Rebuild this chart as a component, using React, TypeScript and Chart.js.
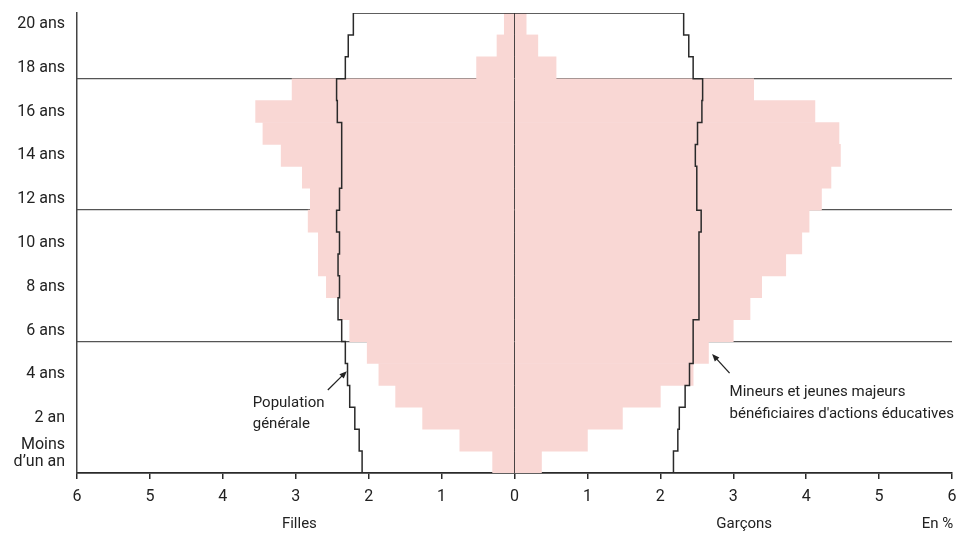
import { useEffect, useRef } from 'react';
import { Chart, registerables } from 'chart.js';

Chart.register(...registerables);

const FONT = 'Roboto, "Liberation Sans", sans-serif';

// Ages 0..20 (bottom to top)
const ages = [0, 1, 2, 3, 4, 5, 6, 7, 8, 9, 10, 11, 12, 13, 14, 15, 16, 17, 18, 19, 20];
const ageLabels: (string | string[])[] = [
  ['Moins', 'd\u2019un an', ''], '', '2 an', '', '4 ans', '', '6 ans', '', '8 ans', '', '10 ans',
  '', '12 ans', '', '14 ans', '', '16 ans', '', '18 ans', '', '20 ans',
];

// Mineurs et jeunes majeurs bénéficiaires d'actions éducatives (en %)
const benefFilles = [0.30, 0.75, 1.26, 1.63, 1.86, 2.02, 2.26, 2.39, 2.58, 2.69, 2.69, 2.83, 2.80, 2.91, 3.20, 3.45, 3.55, 3.05, 0.52, 0.24, 0.14];
const benefGarcons = [0.37, 1.00, 1.48, 2.00, 2.45, 2.66, 3.00, 3.23, 3.39, 3.72, 3.94, 4.04, 4.21, 4.34, 4.47, 4.45, 4.12, 3.28, 0.57, 0.32, 0.16];

// Population générale (en %)
const popFilles = [2.09, 2.13, 2.19, 2.26, 2.29, 2.32, 2.37, 2.42, 2.40, 2.42, 2.40, 2.44, 2.40, 2.37, 2.37, 2.37, 2.43, 2.44, 2.32, 2.28, 2.21];
const popGarcons = [2.18, 2.24, 2.26, 2.34, 2.40, 2.45, 2.45, 2.53, 2.53, 2.53, 2.53, 2.56, 2.50, 2.50, 2.48, 2.51, 2.57, 2.58, 2.45, 2.39, 2.32];

const separatorAges = [6, 12, 18];

const PINK = '#F9D7D4';
const DARK = '#2a2a2a';

function drawArrow(ctx: CanvasRenderingContext2D, x1: number, y1: number, x2: number, y2: number) {
  const ang = Math.atan2(y2 - y1, x2 - x1);
  const head = 8;
  ctx.beginPath();
  ctx.moveTo(x1, y1);
  ctx.lineTo(x2 - Math.cos(ang) * head * 0.7, y2 - Math.sin(ang) * head * 0.7);
  ctx.stroke();
  ctx.beginPath();
  ctx.moveTo(x2, y2);
  ctx.lineTo(x2 - head * Math.cos(ang - 0.4), y2 - head * Math.sin(ang - 0.4));
  ctx.lineTo(x2 - head * Math.cos(ang + 0.4), y2 - head * Math.sin(ang + 0.4));
  ctx.closePath();
  ctx.fill();
}

const annotationPlugin = {
  id: 'annotations',
  afterDraw(chart: any) {
    const { ctx, scales } = chart;
    const x = scales.x;
    const yy = scales.y2;
    ctx.save();
    ctx.fillStyle = '#222';
    ctx.strokeStyle = '#222';
    ctx.lineWidth = 1.3;
    ctx.font = `15px ${FONT}`;
    ctx.textAlign = 'left';
    ctx.textBaseline = 'alphabetic';
    ctx.fillText('Population', x.getPixelForValue(-3.59), yy.getPixelForValue(3.01));
    ctx.fillText('générale', x.getPixelForValue(-3.59), yy.getPixelForValue(2.05));
    ctx.fillText('Mineurs et jeunes majeurs', x.getPixelForValue(2.95), yy.getPixelForValue(3.51));
    ctx.fillText('bénéficiaires d\'actions éducatives', x.getPixelForValue(2.95), yy.getPixelForValue(2.51));
    drawArrow(ctx, x.getPixelForValue(-2.56), yy.getPixelForValue(3.79), x.getPixelForValue(-2.30), yy.getPixelForValue(4.65));
    drawArrow(ctx, x.getPixelForValue(2.95), yy.getPixelForValue(4.56), x.getPixelForValue(2.71), yy.getPixelForValue(5.43));

    ctx.font = `15px ${FONT}`;
    ctx.textAlign = 'center';
    ctx.textBaseline = 'middle';
    const ty = chart.height - 10;
    ctx.fillText('Filles', x.getPixelForValue(-2.95), ty);
    ctx.fillText('Garçons', x.getPixelForValue(3.15), ty);
    ctx.fillText('En %', x.getPixelForValue(5.8), ty);
    ctx.restore();
  },
};

const zeroPad = (s: any) => {
  s.paddingTop = 0;
  s.paddingBottom = 0;
  s.paddingLeft = 0;
  s.paddingRight = 0;
};

export default function App() {
  const canvasRef = useRef<HTMLCanvasElement | null>(null);

  useEffect(() => {
    if (!canvasRef.current) return;
    const outline = [
      ...ages.flatMap((i) => [{ x: -popFilles[i], y: i }, { x: -popFilles[i], y: i + 1 }]),
      ...ages.slice().reverse().flatMap((i) => [{ x: popGarcons[i], y: i + 1 }, { x: popGarcons[i], y: i }]),
    ];
    const chart = new Chart(canvasRef.current, {
      type: 'bar',
      data: {
        labels: ageLabels as any,
        datasets: [
          {
            type: 'line',
            label: 'Population générale',
            data: outline as any,
            xAxisID: 'x',
            yAxisID: 'y2',
            borderColor: DARK,
            borderWidth: 1.5,
            pointRadius: 0,
            fill: false,
            tension: 0,
            order: 0,
          } as any,
          {
            label: 'Filles',
            data: benefFilles.map((v) => -v),
            backgroundColor: PINK,
            borderWidth: 0,
            grouped: false,
            barPercentage: 1,
            categoryPercentage: 1,
            yAxisID: 'y',
            order: 2,
          } as any,
          {
            label: 'Garçons',
            data: benefGarcons,
            backgroundColor: PINK,
            borderWidth: 0,
            grouped: false,
            barPercentage: 1,
            categoryPercentage: 1,
            yAxisID: 'y',
            order: 2,
          } as any,
        ],
      },
      options: {
        indexAxis: 'y',
        animation: false,
        responsive: false,
        maintainAspectRatio: false,
        layout: { padding: { top: 13, right: 5, left: 0, bottom: 0 } },
        plugins: { legend: { display: false }, tooltip: { enabled: false } },
        scales: {
          x: {
            type: 'linear',
            min: -6,
            max: 6,
            position: 'bottom',
            z: 1,
            ticks: {
              stepSize: 1,
              padding: 8,
              color: '#222',
              font: { family: FONT, size: 16 },
              callback: (v: any) => String(Math.abs(Number(v))),
            },
            grid: {
              color: (c: any) => (c.tick && c.tick.value === 0 ? DARK : 'rgba(0,0,0,0)'),
              lineWidth: 1.5,
              tickColor: DARK,
              tickLength: 6,
              drawTicks: true,
            },
            border: { display: true, color: DARK, width: 1.8 },
            afterFit: (s: any) => { s.height = 61; zeroPad(s); },
          },
          y: {
            type: 'category',
            reverse: true,
            position: 'left',
            offset: true,
            ticks: {
              autoSkip: false,
              padding: 12,
              color: '#222',
              font: { family: FONT, size: 16, lineHeight: 1.05 },
            },
            grid: { display: false, drawTicks: false },
            border: { display: true, color: '#444', width: 1.5 },
            afterFit: (s: any) => { s.width = 77; zeroPad(s); },
          },
          y2: {
            type: 'linear',
            position: 'right',
            min: 0,
            max: 21,
            offset: false,
            ticks: { display: false, stepSize: 6 },
            grid: {
              offset: false,
              drawTicks: false,
              lineWidth: 1.3,
              color: (c: any) => (c.tick && separatorAges.includes(c.tick.value) ? '#555' : 'rgba(0,0,0,0)'),
            },
            border: { display: false },
            afterFit: (s: any) => { s.width = 0; zeroPad(s); },
          },
        },
      } as any,
      plugins: [annotationPlugin],
    });
    return () => chart.destroy();
  }, []);

  return (
    <div style={{ position: 'absolute', left: 0, top: 0, width: 957, height: 534, background: '#fff' }}>
      <canvas ref={canvasRef} width={957} height={534} style={{ width: 957, height: 534, display: 'block' }} />
    </div>
  );
}
